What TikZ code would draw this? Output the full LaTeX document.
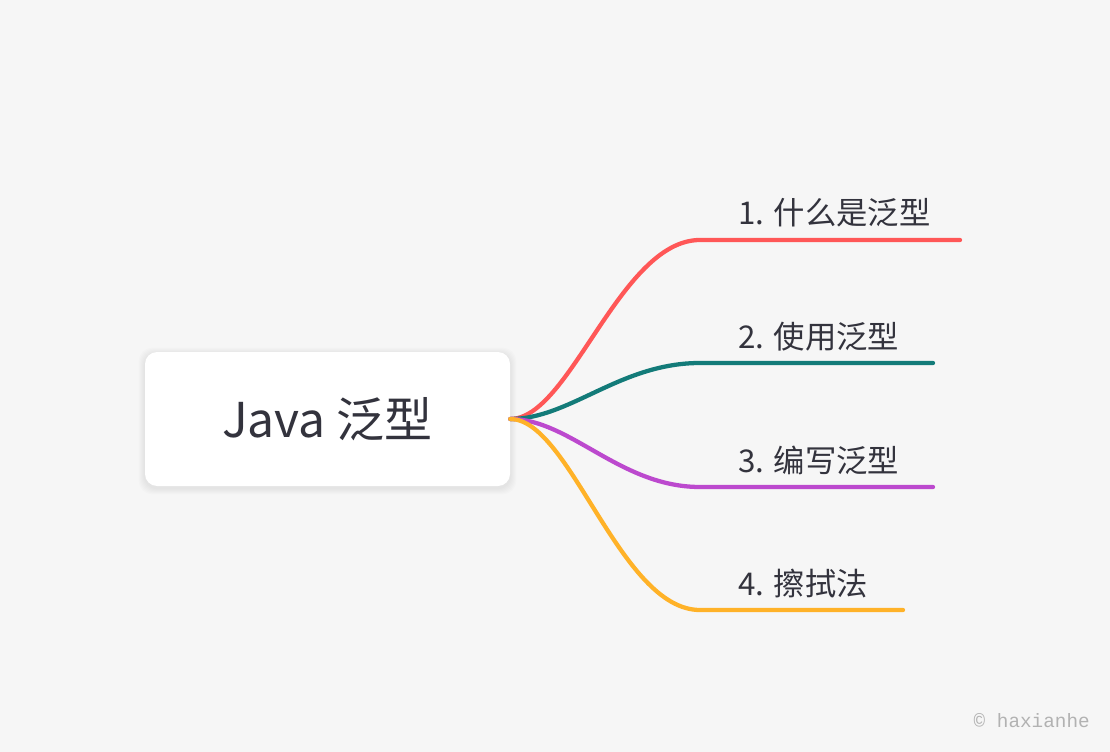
\documentclass[tikz,border=0pt]{standalone}
\usepackage{fontspec}
\setmainfont{Noto Sans CJK SC}
\setmonofont{Liberation Mono}
\usetikzlibrary{backgrounds}
\definecolor{bg}{HTML}{F6F6F6}
\definecolor{ink}{HTML}{33333D}
\definecolor{cred}{HTML}{FF5757}
\definecolor{cteal}{HTML}{137B79}
\definecolor{cpurple}{HTML}{BC49CE}
\definecolor{corange}{HTML}{FFB228}
\tikzset{
  rootbox/.style={fill=white, rounded corners=9pt, minimum width=273.75pt, minimum height=100.5pt,
    text=ink, font=\fontsize{36}{42}\selectfont},
  lbl/.style={anchor=base west, inner sep=0pt, text=ink, font=\fontsize{23.5}{28}\selectfont},
  branch/.style={line width=3.2pt, line cap=round}
}
\begin{document}
\begin{tikzpicture}[x=0.75pt,y=-0.75pt]
\useasboundingbox (0,0) rectangle (1110,752);
\node[rootbox] (root) at (327.5,419) {Java 泛型};
\begin{pgfonlayer}{background}
\fill[bg] (0,0) rectangle (1110,752);
% soft shadow under the box
\foreach \s in {1,...,6}
  \fill[black, opacity=0.012, rounded corners=10pt]
    ([shift={(-\s,\s+2)}]root.south west) rectangle ([shift={(\s,-\s+2)}]root.north east);
\end{pgfonlayer}
% branch ends
\coordinate (k1) at (700,240); \coordinate (e1) at (960,240);
\coordinate (k2) at (700,363); \coordinate (e2) at (933,363);
\coordinate (k3) at (700,487); \coordinate (e3) at (933,487);
\coordinate (k4) at (700,610); \coordinate (e4) at (903,610);
\draw[branch, cred] (root.east) .. controls (570,419) and (620,240) .. (k1) -- (e1);
\draw[branch, cteal] (root.east) .. controls (570,419) and (620,363) .. (k2) -- (e2);
\draw[branch, cpurple] (root.east) .. controls (570,419) and (620,487) .. (k3) -- (e3);
\draw[branch, corange] (root.east) .. controls (570,419) and (620,610) .. (k4) -- (e4);
\node[lbl] (l1) at (738,225) {1. 什么是泛型};
\node[lbl] (l2) at (738,348) {2. 使用泛型};
\node[lbl] (l3) at (738,472) {3. 编写泛型};
\node[lbl] (l4) at (738,595) {4. 擦拭法};
\node[anchor=base east, inner sep=0pt, text=black!30, font=\ttfamily\fontsize{14.5}{16}\selectfont] (mark) at (1090,727) {© haxianhe};
\end{tikzpicture}
\end{document}
